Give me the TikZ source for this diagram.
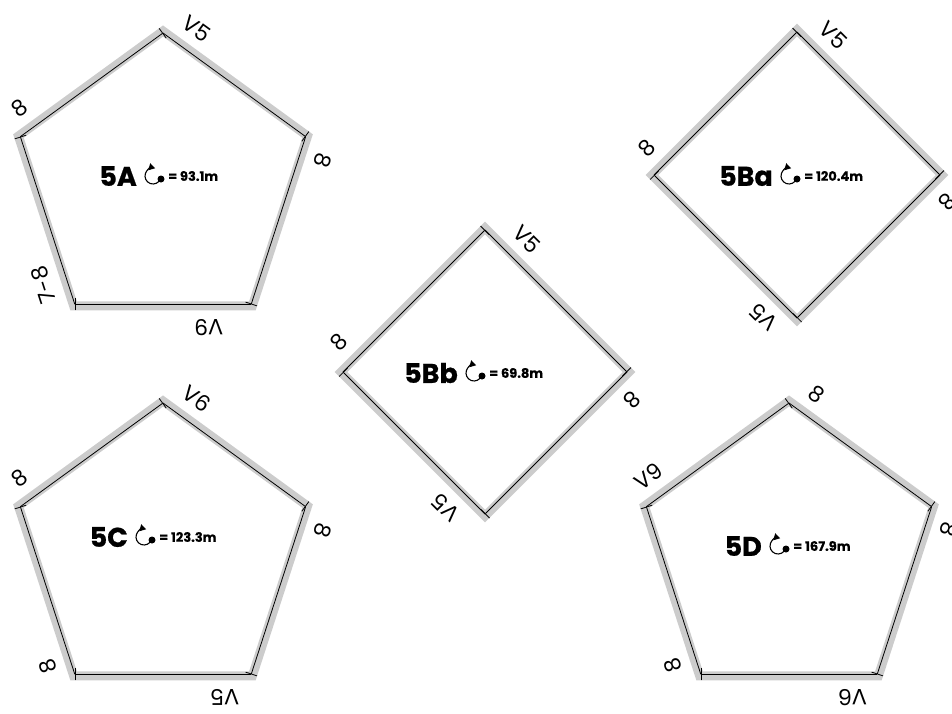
\documentclass[tikz,border=0pt]{standalone}
\usepackage{fontspec}
\setmainfont{Poppins}
\usetikzlibrary{positioning,arrows.meta}

\newcommand{\edgefont}{\fontsize{22}{22}\selectfont}
\newcommand{\namefont}{\fontsize{27}{27}\selectfont\bfseries\addfontfeatures{FakeBold=0.8}}
\newcommand{\valfont}{\fontsize{13}{13}\selectfont\bfseries\addfontfeatures{FakeBold=0.5}}
% turning circle mark, centred at a named coordinate
\newcommand{\turnsym}[1]{%
    \draw[line width=1.1pt, -{Triangle[length=6pt, width=7pt]}]
        ([shift={(-20:8)}]#1) arc[start angle=-20, end angle=-285, radius=8];
    \fill ([shift={(8,-3)}]#1) circle[radius=3.5];
}

\begin{document}
\begin{tikzpicture}[x=1pt, y=1pt,
    band/.style={gray!40, line width=9pt, line join=miter},
    side/.style={line width=0.8pt, -{Bar[width=12pt, line width=0.8pt]}},
    sidelabel/.style={font=\edgefont, sloped, allow upside down, above=15pt, inner sep=0pt},
    areaname/.style={font=\namefont, anchor=east, inner sep=0pt},
    areaval/.style={font=\valfont, inner sep=0pt}]
    \useasboundingbox (0,0) rectangle (952,-713);

    % pentagon 5A
    \begin{scope}[shift={(163,-183)}]
        \draw[band] (90:152) -- (18:152) -- (-54:152) -- (-126:152) -- (-198:152) -- cycle;
        \foreach \i in {0,...,4} \coordinate (A\i) at (90-72*\i:150);
        \foreach \i/\j/\t/\p in {0/1/V5/0.14, 1/2/8/0.1, 2/3/V9/0.24, 3/4/7-8/0.16, 4/0/8/0.09}
            \draw[side] (A\i) -- node[sidelabel, pos=\p] {\t} (A\j);
    \end{scope}
    \node[areaname] (nA) at (137,-176) {5A};
    \coordinate[right=16pt of nA.east] (sA);
    \turnsym{sA}
    \node[areaval, right=15pt of sA] (vA) {= 93.1m};

    % pentagon 5C
    \begin{scope}[shift={(163,-553)}]
        \draw[band] (90:152) -- (18:152) -- (-54:152) -- (-126:152) -- (-198:152) -- cycle;
        \foreach \i in {0,...,4} \coordinate (C\i) at (90-72*\i:150);
        \foreach \i/\j/\t/\p in {0/1/V6/0.14, 1/2/8/0.1, 2/3/V5/0.15, 3/4/8/0.09, 4/0/8/0.09}
            \draw[side] (C\i) -- node[sidelabel, pos=\p] {\t} (C\j);
    \end{scope}
    \node[areaname] (nC) at (128,-537) {5C};
    \coordinate[right=16pt of nC.east] (sC);
    \turnsym{sC}
    \node[areaval, right=15pt of sC] (vC) {= 123.3m};

    % pentagon 5D
    \begin{scope}[shift={(789,-553)}]
        \draw[band] (90:152) -- (18:152) -- (-54:152) -- (-126:152) -- (-198:152) -- cycle;
        \foreach \i in {0,...,4} \coordinate (D\i) at (90-72*\i:150);
        \foreach \i/\j/\t/\p in {0/1/8/0.1, 1/2/8/0.09, 2/3/V6/0.14, 3/4/8/0.1, 4/0/V9/0.11}
            \draw[side] (D\i) -- node[sidelabel, pos=\p] {\t} (D\j);
    \end{scope}
    \node[areaname] (nD) at (762,-546) {5D};
    \coordinate[right=16pt of nD.east] (sD);
    \turnsym{sD}
    \node[areaval, right=15pt of sD] (vD) {= 167.9m};

    % square 5Bb
    \begin{scope}[shift={(485,-372)}]
        \draw[band] (90:144.1) -- (0:144.1) -- (-90:144.1) -- (180:144.1) -- cycle;
        \foreach \i in {0,...,3} \coordinate (Bb\i) at (90-90*\i:142);
        \foreach \i/\j/\t/\p in {0/1/V5/0.18, 1/2/8/0.08, 2/3/V5/0.16, 3/0/8/0.09}
            \draw[side] (Bb\i) -- node[sidelabel, pos=\p] {\t} (Bb\j);
    \end{scope}
    \node[areaname] (nBb) at (458,-373) {5Bb};
    \coordinate[right=16pt of nBb.east] (sBb);
    \turnsym{sBb}
    \node[areaval, right=15pt of sBb] (vBb) {= 69.8m};

    % square 5Ba
    \begin{scope}[shift={(797,-175)}]
        \draw[band] (90:145.1) -- (0:145.1) -- (-90:145.1) -- (180:145.1) -- cycle;
        \foreach \i in {0,...,3} \coordinate (Ba\i) at (90-90*\i:143);
        \foreach \i/\j/\t/\p in {0/1/V5/0.14, 1/2/8/0.07, 2/3/V5/0.12, 3/0/8/0.07}
            \draw[side] (Ba\i) -- node[sidelabel, pos=\p] {\t} (Ba\j);
    \end{scope}
    \node[areaname] (nBa) at (773,-176) {5Ba};
    \coordinate[right=16pt of nBa.east] (sBa);
    \turnsym{sBa}
    \node[areaval, right=15pt of sBa] (vBa) {= 120.4m};
\end{tikzpicture}
\end{document}
